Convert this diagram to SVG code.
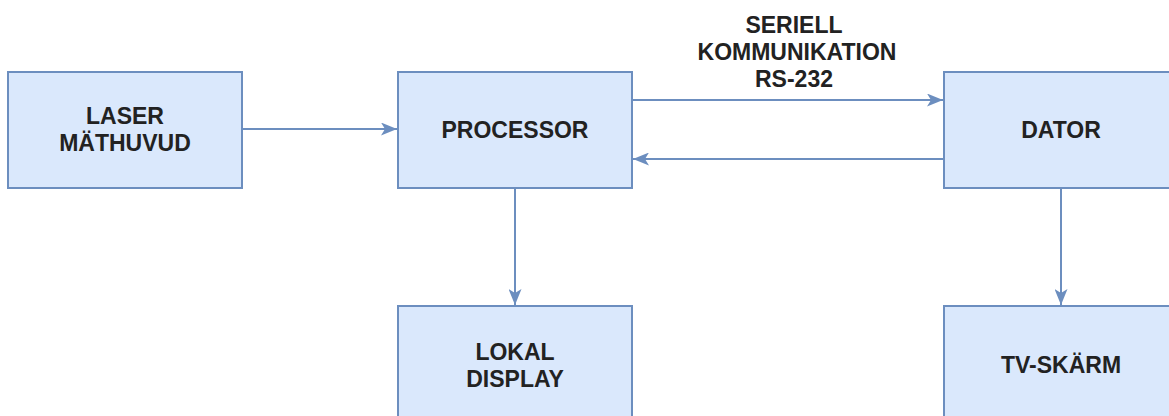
<svg xmlns="http://www.w3.org/2000/svg" width="1169" height="416" viewBox="0 0 1169 416">
  <style>
    .box { fill: #dae8fc; stroke: #6c8ebf; stroke-width: 2; }
    .lbl { font-family: "Liberation Sans", Arial, sans-serif; font-size: 23px; font-weight: bold; fill: #222222; text-anchor: middle; }
    .edge { fill: none; stroke: #6c8ebf; stroke-width: 2; }
  </style>
  <defs>
    <!-- block arrowhead with a shallow notch, 16 px long by 13 px wide -->
    <marker id="arrow" viewBox="0 0 16 13" refX="16" refY="6.5" markerWidth="16" markerHeight="13" markerUnits="userSpaceOnUse" orient="auto">
      <path d="M0,0 L16,6.5 L0,13 L4,6.5 Z" fill="#6c8ebf"/>
    </marker>
  </defs>
  <rect width="1169" height="416" fill="#ffffff"/>

  <g id="connectors">
    <line class="edge" x1="242" y1="129" x2="397" y2="129" marker-end="url(#arrow)"/>
    <line class="edge" x1="632" y1="100" x2="943" y2="100" marker-end="url(#arrow)"/>
    <line class="edge" x1="944" y1="159" x2="633" y2="159" marker-end="url(#arrow)"/>
    <line class="edge" x1="515" y1="188" x2="515" y2="305" marker-end="url(#arrow)"/>
    <line class="edge" x1="1061" y1="188" x2="1061" y2="305" marker-end="url(#arrow)"/>
    <g id="edge-label">
      <text class="lbl" x="794" y="33">SERIELL</text>
      <text class="lbl" x="797" y="60">KOMMUNIKATION</text>
      <text class="lbl" x="794" y="87">RS-232</text>
    </g>
  </g>

  <g id="laser">
    <rect class="box" x="8" y="72" width="234" height="116"/>
    <text class="lbl" x="125" y="124">LASER</text>
    <text class="lbl" x="125" y="151">MÄTHUVUD</text>
  </g>
  <g id="processor">
    <rect class="box" x="398" y="72" width="234" height="116"/>
    <text class="lbl" x="515" y="138">PROCESSOR</text>
  </g>
  <g id="dator">
    <rect class="box" x="944" y="72" width="234" height="116"/>
    <text class="lbl" x="1061" y="138">DATOR</text>
  </g>
  <g id="lokal-display">
    <rect class="box" x="398" y="306" width="234" height="118"/>
    <text class="lbl" x="515" y="360">LOKAL</text>
    <text class="lbl" x="515" y="387">DISPLAY</text>
  </g>
  <g id="tv-skarm">
    <rect class="box" x="944" y="306" width="234" height="118"/>
    <text class="lbl" x="1061" y="373">TV-SKÄRM</text>
  </g>
</svg>
